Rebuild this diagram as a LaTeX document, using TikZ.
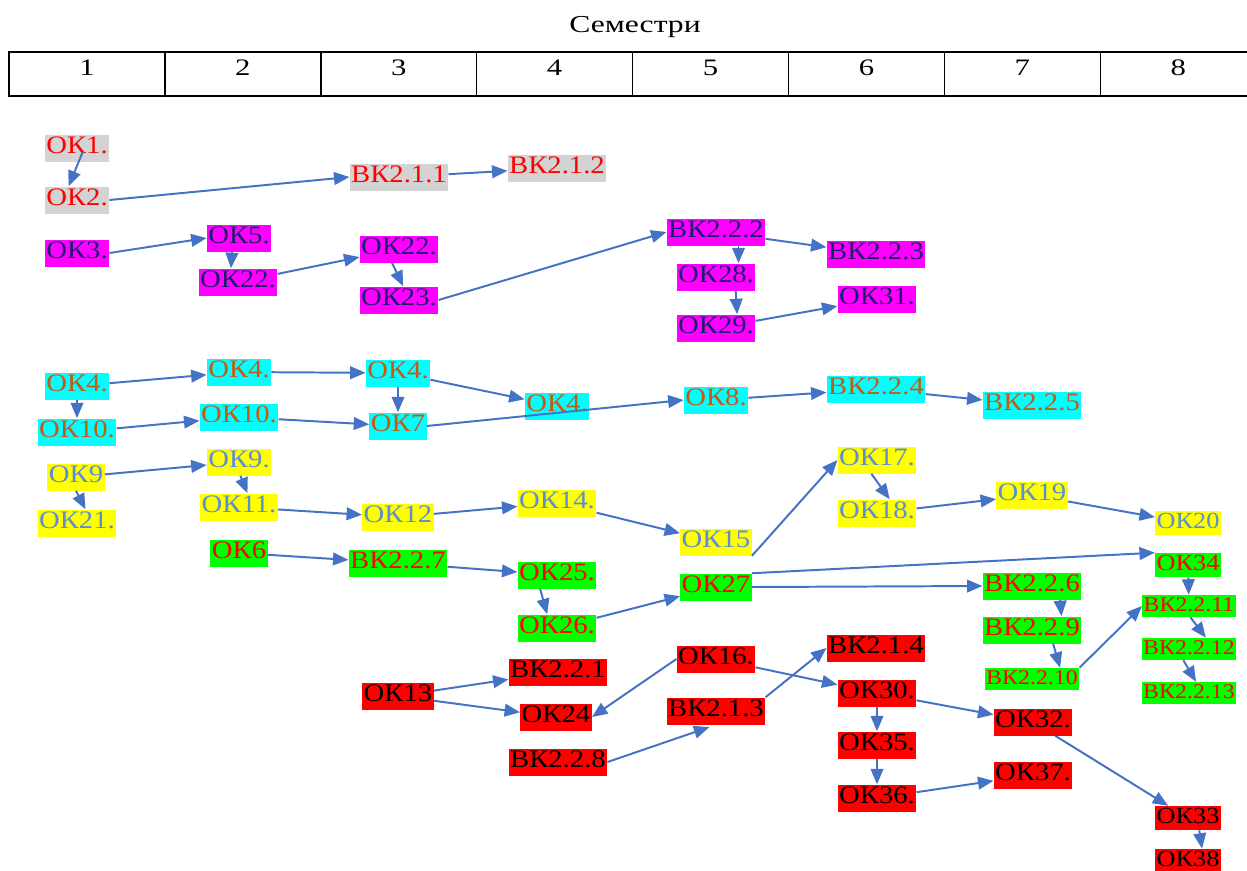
\documentclass[tikz,border=0pt]{standalone}
\usepackage{fontspec}
\setmainfont{Liberation Serif}[FakeStretch=1.14]
\newfontfamily\headfamily{Liberation Serif}[FakeStretch=1.3]
\usetikzlibrary{arrows.meta}

\definecolor{arrowblue}{HTML}{4472C4}
\definecolor{hlgray}{HTML}{D3D3D3}
\definecolor{hlpink}{HTML}{FF00FF}
\definecolor{hlcyan}{HTML}{00FFFF}
\definecolor{hlyellow}{HTML}{FFFF00}
\definecolor{hlgreen}{HTML}{00FF00}
\definecolor{hlred}{HTML}{FF0000}
\definecolor{navytext}{HTML}{1F1C6E}
\definecolor{browntext}{HTML}{C55A11}
\definecolor{bluetext}{HTML}{5B8FD0}
\newcommand\okfont{\fontsize{17.9}{19}\selectfont}

\begin{document}
\begin{tikzpicture}[x=0.025cm,y=-0.025cm]
\tikzset{
% highlighted course boxes, one style per colour group
box/.style={inner sep=0pt,inner xsep=1pt,minimum height=0.675cm,text height=0.86em,text depth=0.1em,font=\okfont},
small/.style={minimum height=0.6cm,font={\fontsize{16.4}{18}\selectfont}},
tiny/.style={minimum height=0.55cm,font={\fontsize{14.9}{16}\selectfont}},
graybox/.style={box,fill=hlgray,text=hlred},
pinkbox/.style={box,fill=hlpink,text=navytext},
cyanbox/.style={box,fill=hlcyan,text=browntext},
yellowbox/.style={box,fill=hlyellow,text=bluetext},
greenbox/.style={box,fill=hlgreen,text=hlred},
redbox/.style={box,fill=hlred,text=black},
arr/.style={draw=arrowblue,line width=1.4pt,-{Triangle[length=11pt,width=9pt]}}
}
\useasboundingbox (0,0) rectangle (1247,870);

% header: semesters
\node (title) [anchor=base,font={\headfamily\fontsize{17.3}{19}\selectfont}] at (635,32) {Семестри};
\draw[line width=1pt] (9,52) rectangle (1262,96);
\foreach \i in {1,...,7} {\draw[line width=1pt] ({9+155.9*\i},52) -- ++(0,44);}
\foreach \i in {1,...,8} {\node (s\i) [anchor=base,font={\headfamily\fontsize{16.8}{19}\selectfont}] at ({9+155.9*(\i-0.5)},75) {\i};}

% gray group
\node (ok1) [graybox] at (77,148) {ОК1.};
\node (ok2) [graybox] at (77,200) {ОК2.};
\node (vk211) [graybox] at (399,177) {ВК2.1.1};
\node (vk212) [graybox] at (557,168) {ВК2.1.2};

% magenta group
\node (ok3) [pinkbox] at (77,253) {ОК3.};
\node (ok5) [pinkbox] at (239,238) {ОК5.};
\node (ok22a) [pinkbox] at (238,282) {ОК22.};
\node (ok22b) [pinkbox] at (399,249) {ОК22.};
\node (ok23) [pinkbox] at (399,300) {ОК23.};
\node (vk222) [pinkbox] at (716,232) {ВК2.2.2};
\node (vk223) [pinkbox] at (876,254) {ВК2.2.3};
\node (ok28) [pinkbox] at (716,277) {ОК28.};
\node (ok29) [pinkbox] at (716,328) {ОК29.};
\node (ok31) [pinkbox] at (877,299) {ОК31.};

% cyan group
\node (ok4a) [cyanbox] at (77,386) {ОК4.};
\node (ok10a) [cyanbox] at (77,432) {ОК10.};
\node (ok4b) [cyanbox] at (239,372) {ОК4.};
\node (ok10b) [cyanbox] at (239,417) {ОК10.};
\node (ok4c) [cyanbox] at (398,373) {ОК4.};
\node (ok7) [cyanbox] at (398,426) {ОК7};
\node (ok4d) [cyanbox] at (557,406) {ОК4.};
\node (ok8) [cyanbox] at (716,400) {ОК8.};
\node (vk224) [cyanbox] at (876,389) {ВК2.2.4};
\node (vk225) [cyanbox] at (1032,405) {ВК2.2.5};

% yellow group
\node (ok9a) [yellowbox] at (76,477) {ОК9};
\node (ok21) [yellowbox] at (77,523) {ОК21.};
\node (ok9b) [yellowbox] at (239,462) {ОК9.};
\node (ok11) [yellowbox] at (239,507) {ОК11.};
\node (ok12) [yellowbox] at (398,517) {ОК12};
\node (ok14) [yellowbox] at (557,503) {ОК14.};
\node (ok15) [yellowbox] at (716,542) {ОК15};
\node (ok17) [yellowbox] at (877,460) {ОК17.};
\node (ok18) [yellowbox] at (877,513) {ОК18.};
\node (ok19) [yellowbox] at (1032,495) {ОК19};
\node (ok20) [yellowbox,small] at (1188,523) {ОК20};

% green group
\node (ok6) [greenbox] at (239,553) {ОК6};
\node (vk227) [greenbox] at (398,563) {ВК2.2.7};
\node (ok25) [greenbox] at (557,575) {ОК25.};
\node (ok26) [greenbox] at (557,628) {ОК26.};
\node (ok27) [greenbox] at (716,587) {ОК27};
\node (vk226) [greenbox] at (1032,586) {ВК2.2.6};
\node (vk229) [greenbox] at (1032,630) {ВК2.2.9};
\node (vk2210) [greenbox,tiny] at (1032,679) {ВК2.2.10};
\node (ok34) [greenbox,small] at (1188,565) {ОК34};
\node (vk2211) [greenbox,tiny] at (1189,606) {ВК2.2.11};
\node (vk2212) [greenbox,tiny] at (1189,649) {ВК2.2.12};
\node (vk2213) [greenbox,tiny] at (1189,693) {ВК2.2.13};

% red group
\node (ok13) [redbox] at (398,696) {ОК13};
\node (vk221) [redbox] at (558,672) {ВК2.2.1};
\node (ok24) [redbox] at (556,717) {ОК24};
\node (vk228) [redbox] at (558,762) {ВК2.2.8};
\node (ok16) [redbox] at (716,659) {ОК16.};
\node (vk213) [redbox] at (716,711) {ВК2.1.3};
\node (vk214) [redbox] at (876,648) {ВК2.1.4};
\node (ok30) [redbox] at (877,693) {ОК30.};
\node (ok35) [redbox] at (877,745) {ОК35.};
\node (ok36) [redbox] at (877,798) {ОК36.};
\node (ok32) [redbox] at (1033,722) {ОК32.};
\node (ok37) [redbox] at (1033,775) {ОК37.};
\node (ok33) [redbox,small] at (1188,818) {ОК33};
\node (ok38) [redbox,small] at (1188,861) {ОК38};

% prerequisites
\draw[arr] ([xshift=4pt,yshift=-3pt]ok1.center) -- ([xshift=-6pt]ok2.north);
\draw[arr] (ok2.east) -- (vk211.west);
\draw[arr] (vk211) -- (vk212);
\draw[arr] (ok3.east) -- (ok5.west);
\draw[arr] ([xshift=-5pt]ok5.south) -- ([xshift=-5pt]ok22a.north);
\draw[arr] (ok22a) -- (ok22b);
\draw[arr] ([xshift=-5pt]ok22b.south) -- ([xshift=3pt]ok23.north);
\draw[arr] (ok23.east) -- (vk222.west);
\draw[arr] (vk222) -- (vk223);
\draw[arr] ([xshift=16pt]vk222.south) -- ([xshift=16pt]ok28.north);
\draw[arr] ([xshift=14pt]ok28.south) -- ([xshift=15pt]ok29.north);
\draw[arr] (ok29) -- (ok31);
\draw[arr] (ok4a) -- (ok4b);
\draw[arr] (ok4a) -- (ok10a);
\draw[arr] (ok10a) -- (ok10b);
\draw[arr] (ok4b) -- (ok4c);
\draw[arr] (ok4c) -- (ok7);
\draw[arr] (ok4c) -- (ok4d);
\draw[arr] (ok10b) -- (ok7);
\draw[arr] (ok7.east) -- (ok8.west);
\draw[arr] (ok8) -- (vk224);
\draw[arr] (vk224) -- (vk225);
\draw[arr] (ok9a) -- (ok9b);
\draw[arr] (ok9a.south) -- ([xshift=6pt]ok21.north);
\draw[arr] ([xshift=1pt]ok9b.south) -- ([xshift=6pt]ok11.north);
\draw[arr] (ok11) -- (ok12);
\draw[arr] (ok12) -- (ok14);
\draw[arr] (ok14) -- (ok15);
\draw[arr] (ok15.south east) -- (ok17.west);
\draw[arr] ([xshift=-4pt]ok17.south) -- ([xshift=9pt]ok18.north);
\draw[arr] (ok18) -- (ok19);
\draw[arr] (ok19) -- (ok20);
\draw[arr] (ok6) -- (vk227);
\draw[arr] (vk227) -- (ok25);
\draw[arr] ([xshift=-12pt]ok25.south) -- ([xshift=-7pt]ok26.north);
\draw[arr] (ok26) -- (ok27);
\draw[arr] (ok27.north east) -- (ok34.north west);
\draw[arr] (ok27.east) -- (vk226.west);
\draw[arr] ([xshift=20pt]vk226.south) -- ([xshift=21pt]vk229.north);
\draw[arr] ([xshift=15pt]vk229.south) -- ([xshift=20pt]vk2210.north);
\draw[arr] (vk2210.north east) -- (vk2211.west);
\draw[arr] (ok34) -- (vk2211);
\draw[arr] ([xshift=1pt]vk2211.south) -- ([xshift=12pt]vk2212.north);
\draw[arr] ([xshift=-4pt]vk2212.south) -- ([xshift=5pt]vk2213.north);
\draw[arr] (ok13) -- (vk221);
\draw[arr] (ok13) -- (ok24);
\draw[arr] (ok16.west) -- (ok24.east);
\draw[arr,shorten >=5pt] (vk228.east) -- (vk213.south);
\draw[arr] (vk213.north east) -- (vk214.west);
\draw[arr] (ok16) -- (ok30);
\draw[arr] (ok30) -- (ok35);
\draw[arr] (ok35) -- (ok36);
\draw[arr] (ok30) -- (ok32);
\draw[arr] (ok36) -- (ok37);
\draw[arr] (ok32) -- (ok33);
\draw[arr] ([xshift=8pt]ok33.south) -- ([xshift=10pt]ok38.north);
\end{tikzpicture}
\end{document}
